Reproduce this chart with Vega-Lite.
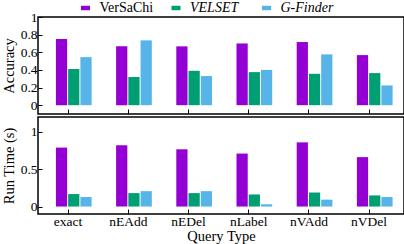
{
  "$schema": "https://vega.github.io/schema/vega-lite/v6.json",
  "padding": {"left": 0, "top": 0, "right": 0, "bottom": 0},
  "data": {"values": [
    {"type": "exact", "method": "VerSaChi", "accuracy": 0.75, "runtime": 0.79},
    {"type": "exact", "method": "VELSET", "accuracy": 0.41, "runtime": 0.167},
    {"type": "exact", "method": "G-Finder", "accuracy": 0.545, "runtime": 0.127},
    {"type": "nEAdd", "method": "VerSaChi", "accuracy": 0.667, "runtime": 0.82},
    {"type": "nEAdd", "method": "VELSET", "accuracy": 0.32, "runtime": 0.18},
    {"type": "nEAdd", "method": "G-Finder", "accuracy": 0.735, "runtime": 0.206},
    {"type": "nEDel", "method": "VerSaChi", "accuracy": 0.667, "runtime": 0.767},
    {"type": "nEDel", "method": "VELSET", "accuracy": 0.39, "runtime": 0.18},
    {"type": "nEDel", "method": "G-Finder", "accuracy": 0.33, "runtime": 0.206},
    {"type": "nLabel", "method": "VerSaChi", "accuracy": 0.70, "runtime": 0.71},
    {"type": "nLabel", "method": "VELSET", "accuracy": 0.375, "runtime": 0.162},
    {"type": "nLabel", "method": "G-Finder", "accuracy": 0.40, "runtime": 0.03},
    {"type": "nVAdd", "method": "VerSaChi", "accuracy": 0.716, "runtime": 0.86},
    {"type": "nVAdd", "method": "VELSET", "accuracy": 0.356, "runtime": 0.188},
    {"type": "nVAdd", "method": "G-Finder", "accuracy": 0.576, "runtime": 0.092},
    {"type": "nVDel", "method": "VerSaChi", "accuracy": 0.568, "runtime": 0.662},
    {"type": "nVDel", "method": "VELSET", "accuracy": 0.364, "runtime": 0.149},
    {"type": "nVDel", "method": "G-Finder", "accuracy": 0.224, "runtime": 0.127}
  ]},
  "spacing": 0,
  "resolve": {"legend": {"color": "independent"}},
  "vconcat": [
    {
      "width": 366,
      "height": 97,
      "mark": {"type": "bar"},
      "encoding": {
        "x": {"field": "type", "type": "nominal", "sort": ["exact", "nEAdd", "nEDel", "nLabel", "nVAdd", "nVDel"],
          "scale": {"paddingInner": 0, "paddingOuter": 0.04, "align": 0},
          "axis": {"title": null, "labels": false, "tickSize": -5, "ticks": true}},
        "xOffset": {"field": "method", "type": "nominal", "sort": ["VerSaChi", "VELSET", "G-Finder"],
          "scale": {"paddingInner": 0.083, "paddingOuter": 1.054, "align": 0.731}},
        "y": {"field": "accuracy", "type": "quantitative", "stack": null,
          "scale": {"domain": [-0.1, 1], "nice": false, "zero": false},
          "axis": {"title": "Accuracy", "values": [0, 0.2, 0.4, 0.6, 0.8, 1], "format": ".1~f", "tickSize": -4, "labelPadding": 5}},
        "color": {"field": "method", "type": "nominal", "sort": ["VerSaChi", "VELSET", "G-Finder"],
          "scale": {"domain": ["VerSaChi", "VELSET", "G-Finder"], "range": ["#9400D3", "#009E73", "#56B4E9"]},
          "legend": {"title": null, "orient": "none", "legendX": 40.5, "legendY": -16, "direction": "horizontal", "columns": 3, "gridAlign": "all", "columnPadding": 15.5,
            "symbolType": "M-1,-0.5H1V0.5H-1Z", "symbolSize": 81, "symbolStrokeWidth": 0, "symbolOpacity": 1,
            "labelFont": "Liberation Serif", "labelFontSize": 14, "labelColor": "black", "labelOffset": 7,
            "labelFontStyle": {"expr": "datum.label === 'VerSaChi' ? 'normal' : 'italic'"}}}
      }
    },
    {
      "width": 366,
      "height": 97,
      "mark": {"type": "bar"},
      "encoding": {
        "x": {"field": "type", "type": "nominal", "sort": ["exact", "nEAdd", "nEDel", "nLabel", "nVAdd", "nVDel"],
          "scale": {"paddingInner": 0, "paddingOuter": 0.04, "align": 0},
          "axis": {"title": "Query Type", "labelAngle": 0, "tickSize": -5, "labelPadding": 5, "titlePadding": 2}},
        "xOffset": {"field": "method", "type": "nominal", "sort": ["VerSaChi", "VELSET", "G-Finder"],
          "scale": {"paddingInner": 0.083, "paddingOuter": 1.054, "align": 0.731}},
        "y": {"field": "runtime", "type": "quantitative", "stack": null,
          "scale": {"domain": [-0.1, 1.2], "nice": false, "zero": false},
          "axis": {"title": "Run Time (s)", "values": [0, 0.5, 1], "format": ".1~f", "tickSize": -4, "labelPadding": 5}},
        "color": {"field": "method", "type": "nominal",
          "scale": {"domain": ["VerSaChi", "VELSET", "G-Finder"], "range": ["#9400D3", "#009E73", "#56B4E9"]},
          "legend": null}
      }
    }
  ],
  "config": {
    "font": "Liberation Serif",
    "view": {"stroke": "black", "strokeWidth": 1.5},
    "legend": {"labelColor": "black", "labelFont": "Liberation Serif", "labelFontSize": 14},
    "axis": {"labelFont": "Liberation Serif", "titleFont": "Liberation Serif", "labelFontSize": 13.5, "titleFontSize": 14.5,
      "titleFontWeight": "normal", "labelColor": "black", "titleColor": "black", "tickColor": "black", "tickWidth": 1,
      "domain": false, "grid": false}
  }
}
